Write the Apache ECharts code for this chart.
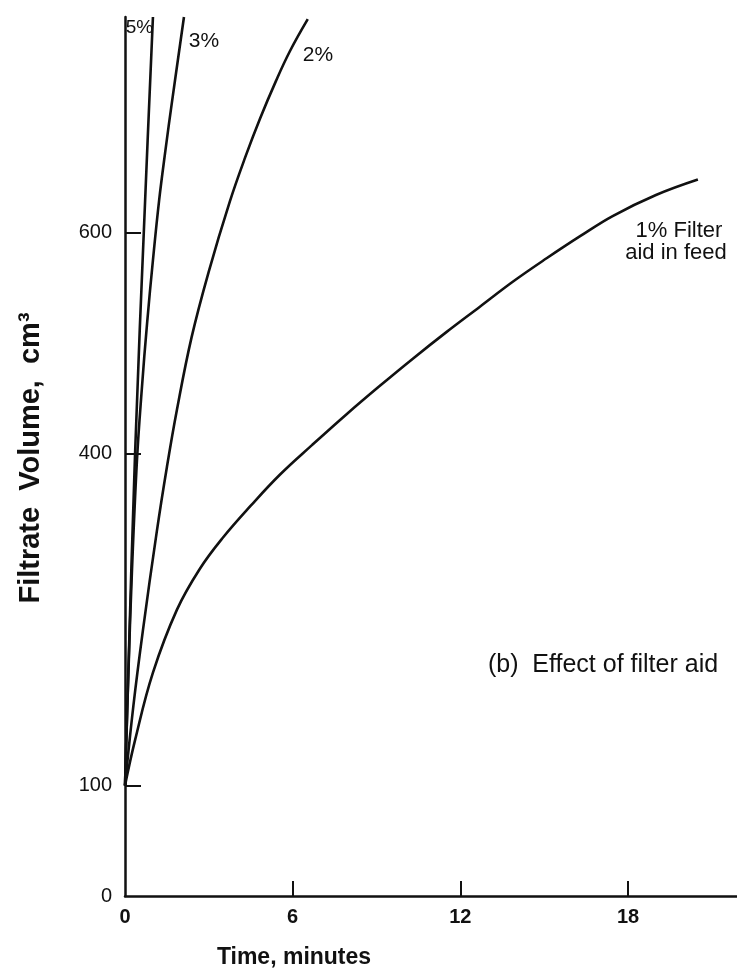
<!DOCTYPE html>
<html>
<head>
<meta charset="utf-8">
<script src="https://cdn.jsdelivr.net/npm/echarts@6/dist/echarts.min.js"></script>
<style>
  html, body { margin: 0; padding: 0; background: #fff; }
  #chart { width: 737px; height: 978px; }
</style>
</head>
<body>
<div id="chart"></div>
<script>
// Filtrate volume (cm3) against time (minutes) for four filter-aid dosages
const feed1pct = [[0,100],[0.36,141],[1,202],[1.86,259],[2.68,296],[3.5,324],[4.5,353],[5.54,381],[6.7,408],[7.94,436],[9.1,461],[10.3,486],[11.5,510],[12.7,533],[13.9,556],[15.1,577],[16.3,597],[17.45,615],[19,634],[20.5,648]];
const feed2pct = [[0,100],[0.3,172],[0.64,240],[1.14,330],[1.5,388],[1.86,440],[2.38,505],[3.0,565],[3.75,628],[4.3,668],[4.83,703],[5.4,737],[5.9,764],[6.54,793]];
const feed3pct = [[0,100],[0.12,200],[0.25,295],[0.43,395],[0.6,458],[0.79,518],[1.0,575],[1.22,629],[1.45,675],[1.68,718],[2.11,795]];
const feed5pct = [[0,100],[0.36,400],[0.72,629],[1.0,795]];

const xLabelValues = [0, 6, 12, 18];
const xTickValues = [6, 12, 18];
const yLabelValues = [0, 100, 400, 600];
const yTickValues = [100, 400, 600];

const ink = '#111';
const font = '"Liberation Sans", Arial, Helvetica, sans-serif';

const chart = echarts.init(document.getElementById('chart'), null, { renderer: 'canvas' });

function curve(name, data) {
  return {
    name: name,
    type: 'line',
    data: data,
    smooth: 0.4,
    symbol: 'none',
    silent: true,
    clip: true,
    lineStyle: { color: ink, width: 2.6 }
  };
}

function note(text, x, y, size, weight) {
  return {
    type: 'text', x: x, y: y,
    style: { text: text, font: (weight || 'normal') + ' ' + size + 'px ' + font, fill: ink, align: 'center', verticalAlign: 'middle' }
  };
}

chart.setOption({
  animation: false,
  backgroundColor: '#fff',
  grid: { left: 125, top: 17, width: 612, height: 879, containLabel: false, outerBoundsMode: 'none' },
  xAxis: {
    type: 'value',
    min: 0,
    max: 21.9,
    splitLine: { show: false },
    axisLine: { show: true, lineStyle: { color: ink, width: 2.5 } },
    axisTick: { show: true, inside: true, length: 15, customValues: xTickValues, lineStyle: { color: ink, width: 2 } },
    axisLabel: { customValues: xLabelValues, color: ink, fontFamily: font, fontSize: 20, fontWeight: 'bold', margin: 11 }
  },
  yAxis: {
    type: 'value',
    min: 0,
    max: 795,
    splitLine: { show: false },
    axisLine: { show: true, lineStyle: { color: ink, width: 2.5 } },
    axisTick: { show: true, inside: true, length: 16, customValues: yTickValues, lineStyle: { color: ink, width: 2 } },
    axisLabel: { customValues: yLabelValues, color: ink, fontFamily: font, fontSize: 20, margin: 13 }
  },
  series: [
    curve('1%', feed1pct),
    curve('2%', feed2pct),
    curve('3%', feed3pct),
    curve('5%', feed5pct)
  ],
  graphic: [
    note('5%', 139.5, 28, 19),
    note('3%', 204, 41, 21),
    note('2%', 318, 55, 21),
    note('1% Filter', 679, 231, 22),
    note('aid in feed', 676, 253, 22),
    note('(b)  Effect of filter aid', 603, 665, 25),
    note('Time, minutes', 294, 958, 23, 'bold'),
    {
      type: 'text', x: 31, y: 458, rotation: Math.PI / 2,
      style: { text: 'Filtrate  Volume,  cm³', font: 'bold 29px ' + font, fill: ink, align: 'center', verticalAlign: 'middle' }
    }
  ]
});
</script>
</body>
</html>
